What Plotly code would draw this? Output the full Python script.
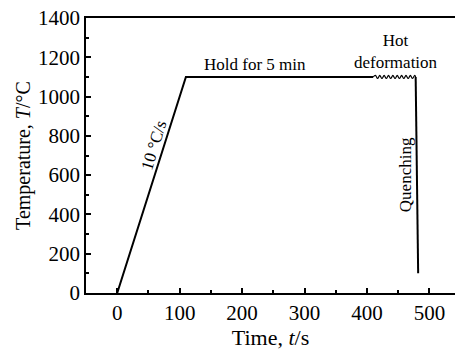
import plotly.graph_objects as go

# Main heat-treatment path
time_s = [0, 110, 410]
temp_c = [0, 1100, 1100]

# Hot deformation (wavy segment)
def_time = [410, 413.5, 417, 420.5, 424, 427.5, 431, 434.5, 438, 441.5, 445, 448.5,
            452, 455.5, 459, 462.5, 466, 469.5, 473, 476.5, 478]
def_temp = [1100, 1108, 1092, 1108, 1092, 1108, 1092, 1108, 1092, 1108, 1092, 1108,
            1092, 1108, 1092, 1108, 1092, 1108, 1092, 1108, 1100]

# Quenching
q_time = [478, 482]
q_temp = [1100, 100]

x_ticks = [0, 100, 200, 300, 400, 500]
y_ticks = [0, 200, 400, 600, 800, 1000, 1200, 1400]

FONT = "Liberation Serif, Times New Roman, serif"

fig = go.Figure()
fig.add_trace(go.Scatter(x=time_s, y=temp_c, mode="lines",
                         line=dict(color="black", width=2), showlegend=False))
fig.add_trace(go.Scatter(x=def_time, y=def_temp, mode="lines",
                         line=dict(color="black", width=1.2, shape="spline"), showlegend=False))
fig.add_trace(go.Scatter(x=q_time, y=q_temp, mode="lines",
                         line=dict(color="black", width=2), showlegend=False))

ann_font = dict(family=FONT, size=17, color="black")
fig.add_annotation(x=75, y=750, text="10 °C/s", showarrow=False, textangle=-73,
                   font=ann_font, xshift=-10)
fig.add_annotation(x=220, y=1100, text="Hold for 5 min", showarrow=False,
                   font=ann_font, yshift=12)
fig.add_annotation(x=447, y=1230, text="Hot<br>deformation", showarrow=False,
                   font=ann_font)
fig.add_annotation(x=461, y=600, text="Quenching", showarrow=False, textangle=-90,
                   font=ann_font)

tick_font = dict(family=FONT, size=21, color="black")
fig.update_layout(
    width=455, height=354,
    margin=dict(l=86, r=0, t=18, b=61),
    paper_bgcolor="white", plot_bgcolor="white",
    font=dict(family=FONT, size=19, color="black"),
    xaxis=dict(range=[-50, 541], tickvals=x_ticks, ticks="inside", ticklen=5,
               tickwidth=1.5, tickcolor="black", tickfont=tick_font,
               showline=True, linecolor="black", linewidth=1.5, mirror=True,
               showgrid=False, zeroline=False,
               minor=dict(dtick=50, tick0=0, ticks="inside", ticklen=3, tickcolor="black", showgrid=False),
               title=dict(text="Time, <i>t</i>/s", font=dict(family=FONT, size=22), standoff=6)),
    yaxis=dict(range=[0, 1400], tickvals=y_ticks, ticks="inside", ticklen=5,
               tickwidth=1.5, tickcolor="black", tickfont=tick_font,
               showline=True, linecolor="black", linewidth=1.5, mirror=False,
               showgrid=False, zeroline=False,
               minor=dict(dtick=100, tick0=0, ticks="inside", ticklen=3, tickcolor="black", showgrid=False),
               title=dict(text="Temperature, <i>T</i>/°C", font=dict(family=FONT, size=20), standoff=2)),
)

fig.write_html("out.html")
